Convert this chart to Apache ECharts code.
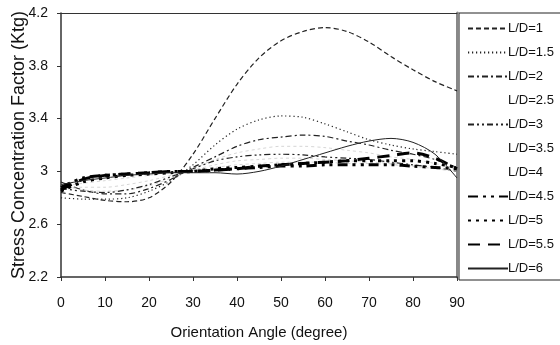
<!DOCTYPE html>
<html><head><meta charset="utf-8">
<script src="https://cdn.jsdelivr.net/npm/echarts@6/dist/echarts.min.js"></script>
<style>html,body{margin:0;padding:0;background:#fff}#c{width:560px;height:345px}</style>
</head><body><div id="c"></div>
<script>
const angles = [0,5,10,15,20,25,30,35,40,45,50,55,60,65,70,75,80,85,90];
const seriesNames = ['L/D=1','L/D=1.5','L/D=2','L/D=2.5','L/D=3','L/D=3.5','L/D=4','L/D=4.5','L/D=5','L/D=5.5','L/D=6'];
const ld1   = [2.84,2.81,2.78,2.77,2.80,2.92,3.13,3.40,3.66,3.86,3.99,4.06,4.09,4.06,3.98,3.87,3.77,3.68,3.61];
const ld1_5 = [2.80,2.79,2.79,2.80,2.85,2.93,3.05,3.20,3.32,3.39,3.42,3.41,3.36,3.30,3.24,3.20,3.17,3.15,3.13];
const ld2   = [2.92,2.86,2.83,2.83,2.87,2.94,3.03,3.11,3.19,3.24,3.26,3.275,3.265,3.23,3.20,3.16,3.13,3.09,3.03];
const ld2_5 = [2.90,2.86,2.85,2.86,2.89,2.95,3.02,3.09,3.14,3.17,3.19,3.19,3.18,3.16,3.14,3.11,3.09,3.06,3.02];
const ld3   = [2.87,2.85,2.84,2.86,2.90,2.96,3.02,3.08,3.11,3.125,3.13,3.125,3.11,3.10,3.09,3.07,3.05,3.03,3.00];
const ld3_5 = [2.88,2.88,2.88,2.90,2.93,2.97,3.01,3.05,3.08,3.09,3.10,3.10,3.09,3.08,3.07,3.06,3.04,3.02,3.00];
const ld4   = [2.89,2.91,2.93,2.95,2.97,2.99,3.01,3.03,3.05,3.06,3.07,3.07,3.07,3.06,3.06,3.05,3.04,3.02,3.00];
const ld4_5 = [2.88,2.95,2.97,2.98,2.99,3.00,3.00,3.01,3.02,3.03,3.04,3.04,3.05,3.05,3.05,3.05,3.04,3.03,3.02];
const ld5   = [2.85,2.92,2.95,2.97,2.98,2.99,3.00,3.02,3.03,3.04,3.05,3.06,3.07,3.08,3.08,3.08,3.08,3.06,3.03];
const ld5_5 = [2.86,2.94,2.97,2.98,2.99,3.00,3.00,3.01,3.02,3.04,3.05,3.06,3.07,3.08,3.10,3.12,3.14,3.10,3.02];
const ld6   = [2.90,2.93,2.95,2.97,2.98,2.99,2.99,2.99,2.98,3.00,3.04,3.09,3.14,3.19,3.23,3.25,3.22,3.13,2.95];
const yTicks = [2.2,2.6,3,3.4,3.8,4.2];
const xTicks = [0,10,20,30,40,50,60,70,80,90];

const values = [ld1,ld1_5,ld2,ld2_5,ld3,ld3_5,ld4,ld4_5,ld5,ld5_5,ld6];
const styles = [
  {type:[5,3], width:1.2, color:'#222'},
  {type:[1.2,2.8], width:1.2, color:'#222'},
  {type:[6,3,2,3], width:1.2, color:'#222'},
  {type:[3,3], width:0.6, color:'#bbb', hidden:true},
  {type:[6,3,2,3,2,3], width:1.2, color:'#222'},
  {type:[3,3], width:0.6, color:'#bbb', hidden:true},
  {type:[3,3], width:0.6, color:'#bbb', hidden:true},
  {type:[10,5,3,5,3,5], width:3, color:'#000'},
  {type:[3,5], width:3, color:'#000'},
  {type:[12,8], width:3, color:'#000'},
  {type:'solid', width:1, color:'#222'}
];
const series = seriesNames.map((n,i)=>({
  name:n, type:'line', smooth:0.3, symbol:'none', showSymbol:false, silent:true,
  data: angles.map((a,j)=>[a, values[i][j]]),
  lineStyle:{type:styles[i].type, width:styles[i].width, color:styles[i].color},
  itemStyle:{color:styles[i].color}
}));
const legendData = seriesNames.map((n,i)=> styles[i].hidden ?
  {name:n, lineStyle:{opacity:0}, itemStyle:{opacity:0}} : {name:n});

const font = 'Liberation Sans, Arial, sans-serif';
const chart = echarts.init(document.getElementById('c'), null, {renderer:'canvas'});
chart.setOption({
  animation:false,
  backgroundColor:'#fff',
  grid:{left:61, right:103, top:13, bottom:68, outerBoundsMode:'none', containLabel:false},
  xAxis:[{
    type:'value', min:0, max:90, interval:10,
    name:'Orientation Angle (degree)', nameLocation:'middle', nameGap:48, nameMoveOverlap:false,
    nameTextStyle:{fontFamily:font, fontSize:15, color:'#111'},
    axisLine:{show:true, lineStyle:{color:'#333', width:1.5}},
    axisTick:{show:true, inside:false, length:4, lineStyle:{color:'#333'}},
    axisLabel:{fontFamily:font, fontSize:14, color:'#111', margin:19, formatter:v=>xTicks.includes(v)?String(v):''},
    splitLine:{show:false}
  },{
    type:'value', position:'top', min:0, max:90,
    axisLine:{show:true, onZero:false, lineStyle:{color:'#333', width:1}},
    axisTick:{show:false}, axisLabel:{show:false}, splitLine:{show:false}
  }],
  yAxis:[{
    type:'value', min:2.2, max:4.2, interval:0.4,
    name:'Stress Concentration Factor (Ktg)', nameLocation:'middle', nameGap:33, nameRotate:90, nameMoveOverlap:false,
    nameTextStyle:{fontFamily:font, fontSize:18, color:'#111'},
    axisLine:{show:true, lineStyle:{color:'#333', width:1.5}},
    axisTick:{show:true, inside:false, length:4, lineStyle:{color:'#333'}},
    axisLabel:{fontFamily:font, fontSize:14, color:'#111', margin:13,
      formatter:v=>{const t=yTicks.find(y=>Math.abs(y-v)<1e-6);return t===undefined?'':String(t);}},
    splitLine:{show:false}
  },{
    type:'value', position:'right', min:2.2, max:4.2,
    axisLine:{show:true, onZero:false, lineStyle:{color:'#888', width:3}},
    axisTick:{show:false}, axisLabel:{show:false}, splitLine:{show:false}
  }],
  legend:{
    orient:'vertical', left:462, top:17, itemWidth:40, itemHeight:14, itemGap:11,
    data:legendData, selectedMode:false, itemStyle:{opacity:0},
    textStyle:{fontFamily:font, fontSize:13, color:'#111', padding:[0,0,0,-5]}
  },
  graphic:[{type:'rect', shape:{x:459, y:13, width:120, height:267}, style:{fill:'none', stroke:'#222', lineWidth:1}, silent:true, z:-1}],
  series: series
});
</script></body></html>
